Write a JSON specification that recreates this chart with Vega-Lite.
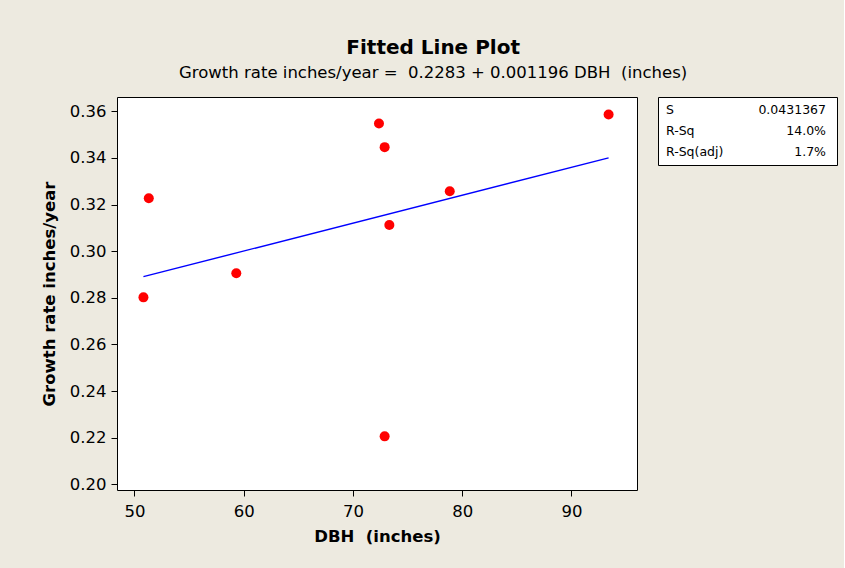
{
  "$schema": "https://vega.github.io/schema/vega-lite/v6.json",
  "background": "#EDEAE0",
  "padding": {"left": 40, "top": 38, "right": 6, "bottom": 22},
  "config": {
    "font": "DejaVu Sans",
    "view": {"stroke": "#000000", "strokeWidth": 1, "fill": "#FFFFFF"}
  },
  "title": {
    "text": "Fitted Line Plot",
    "subtitle": "Growth rate inches/year =\u00a0 0.2283 + 0.001196 DBH\u00a0 (inches)",
    "font": "DejaVu Sans",
    "fontSize": 20,
    "fontWeight": "bold",
    "color": "#000000",
    "subtitleFont": "DejaVu Sans",
    "subtitleFontSize": 16.5,
    "subtitleColor": "#000000",
    "subtitlePadding": 7,
    "offset": 15,
    "anchor": "middle",
    "dx": -6
  },
  "datasets": {
    "obs": [
      {"DBH": 50.82, "Growth": 0.2802},
      {"DBH": 51.31, "Growth": 0.3227},
      {"DBH": 59.32, "Growth": 0.2905},
      {"DBH": 72.38, "Growth": 0.3547},
      {"DBH": 72.90, "Growth": 0.3446},
      {"DBH": 73.33, "Growth": 0.3112},
      {"DBH": 78.86, "Growth": 0.3257},
      {"DBH": 93.40, "Growth": 0.3586},
      {"DBH": 72.90, "Growth": 0.2206}
    ],
    "fit": [
      {"DBH": 50.82, "Growth": 0.28908},
      {"DBH": 93.40, "Growth": 0.34001}
    ],
    "stats": [
      {"stat": "S", "value": "0.0431367"},
      {"stat": "R-Sq", "value": "14.0%"},
      {"stat": "R-Sq(adj)", "value": "1.7%"}
    ]
  },
  "spacing": 19,
  "hconcat": [
    {
      "width": 520,
      "height": 393,
      "encoding": {
        "x": {
          "field": "DBH",
          "type": "quantitative",
          "scale": {"domain": [48.4, 96.0], "nice": false, "zero": false},
          "axis": {
            "values": [50, 60, 70, 80, 90],
            "title": "DBH\u00a0 (inches)",
            "domain": false,
            "grid": false,
            "tickSize": 6,
            "tickColor": "#000000",
            "tickWidth": 1,
            "labelPadding": 7,
            "labelFontSize": 16.5,
            "labelColor": "#000000",
            "labelFlush": false,
            "titleFontSize": 16.5,
            "titleFontWeight": "bold",
            "titleColor": "#000000",
            "titlePadding": 9
          }
        },
        "y": {
          "field": "Growth",
          "type": "quantitative",
          "scale": {"domain": [0.1976, 0.3661], "nice": false, "zero": false},
          "axis": {
            "values": [0.2, 0.22, 0.24, 0.26, 0.28, 0.3, 0.32, 0.34, 0.36],
            "format": ".2f",
            "title": "Growth rate inches/year",
            "domain": false,
            "grid": false,
            "tickSize": 6,
            "tickColor": "#000000",
            "tickWidth": 1,
            "labelPadding": 5,
            "labelFontSize": 16.5,
            "labelColor": "#000000",
            "labelFlush": false,
            "titleFontSize": 16.5,
            "titleFontWeight": "bold",
            "titleColor": "#000000",
            "titlePadding": 12
          }
        }
      },
      "layer": [
        {
          "data": {"name": "fit"},
          "mark": {"type": "line", "color": "#0000FF", "strokeWidth": 1.4}
        },
        {
          "data": {"name": "obs"},
          "mark": {"type": "point", "filled": true, "color": "#FF0000", "size": 100, "opacity": 1}
        }
      ]
    },
    {
      "width": 179,
      "height": 68,
      "data": {"name": "stats"},
      "encoding": {
        "y": {
          "field": "stat",
          "type": "ordinal",
          "sort": null,
          "scale": {"type": "point", "padding": 0.6},
          "axis": null
        }
      },
      "layer": [
        {
          "mark": {"type": "text", "align": "left", "baseline": "middle", "dx": 8, "fontSize": 12.5, "color": "#000000"},
          "encoding": {
            "x": {"datum": 0, "type": "quantitative", "scale": {"domain": [0, 1]}, "axis": null},
            "text": {"field": "stat"}
          }
        },
        {
          "mark": {"type": "text", "align": "right", "baseline": "middle", "dx": -11, "fontSize": 12.5, "color": "#000000"},
          "encoding": {
            "x": {"datum": 1, "type": "quantitative", "scale": {"domain": [0, 1]}, "axis": null},
            "text": {"field": "value"}
          }
        }
      ]
    }
  ]
}
